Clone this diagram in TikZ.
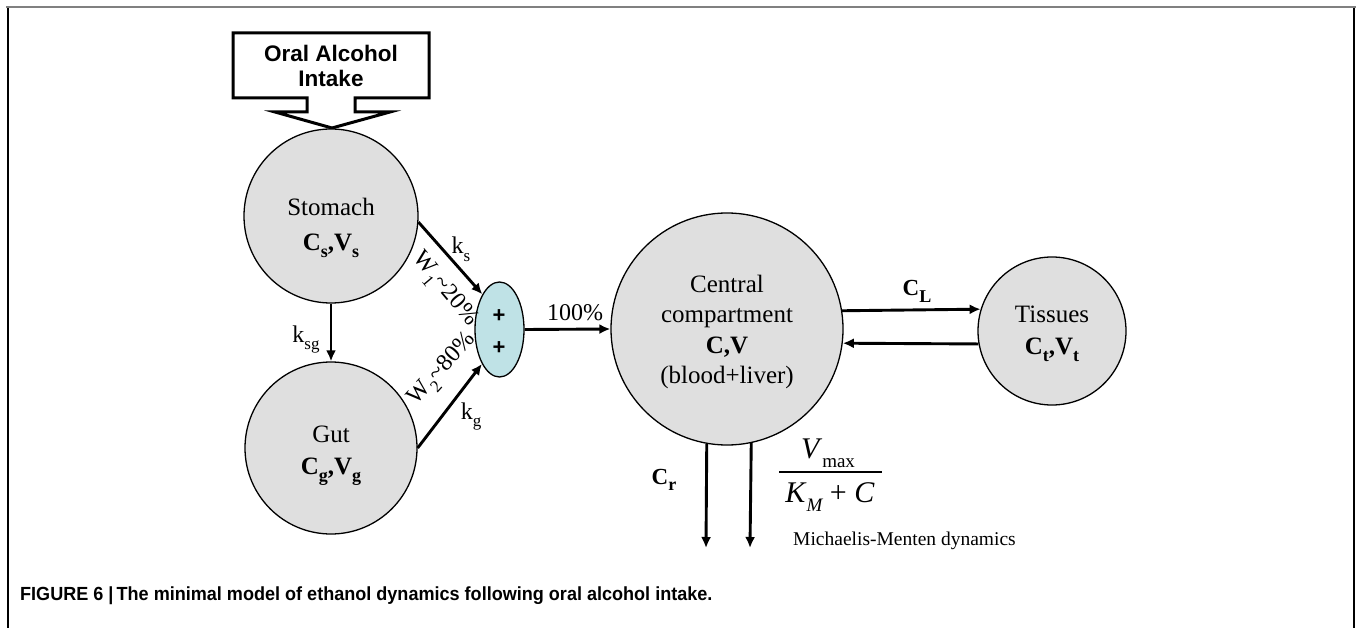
\documentclass[tikz,border=0pt]{standalone}
\usepackage{fontspec}
\setmainfont{Liberation Serif}
\newfontfamily\arialb{Liberation Sans}
\newfontfamily\capfont[FakeStretch=0.95]{Liberation Sans}
\usetikzlibrary{arrows.meta,shapes.geometric}
\definecolor{circfill}{HTML}{DFDFDF}
\definecolor{mixfill}{HTML}{BFE2E6}
\definecolor{framegray}{HTML}{808080}
\newcommand{\lsub}[1]{\raisebox{-0.32em}{\fontsize{17}{17}\selectfont #1}}
\newcommand{\bsub}[1]{\raisebox{-0.28em}{\fontsize{18}{18}\selectfont #1}}
\begin{document}
\begin{tikzpicture}[x=1pt,y=-1pt,
  comp/.style={circle,draw=black,line width=1.3pt,fill=circfill,inner sep=0pt},
  txt/.style={anchor=base,inner sep=0pt,font=\fontsize{25}{30}\selectfont},
  lbl/.style={anchor=base,inner sep=0pt,font=\fontsize{24}{28}\selectfont},
  flow/.style={line width=2.9pt,-{Latex[length=11pt,width=10pt]}},
]
\useasboundingbox (0,0) rectangle (1357,628);
\fill[white] (0,0) rectangle (1357,628);
% frame
\draw[framegray, line width=2.5pt] (6,7) -- (1356,7);
\draw[line width=1.5pt] (8,8) -- (8,628);
\draw[line width=1.5pt] (1354,8) -- (1354,628);

% oral intake block arrow
\draw[line width=3pt, fill=white, line join=miter]
  (233,33) -- (429,33) -- (429,98) -- (355,98) -- (355,112) -- (390,112)
  -- (332,128) -- (275,112) -- (307,112) -- (307,98) -- (233,98) -- cycle;
\node[anchor=base,inner sep=0pt,font=\arialb\bfseries\fontsize{22.5}{26}\selectfont] (intake1) at (331,62) {Oral Alcohol};
\node[anchor=base,inner sep=0pt,font=\arialb\bfseries\fontsize{22.5}{26}\selectfont] (intake2) at (331,87) {Intake};

% compartments
\node[comp, minimum size=174pt] (stomach) at (331,216) {};
\node[comp, minimum size=172pt] (gut) at (331,448) {};
\node[comp, minimum size=232pt] (central) at (727,329) {};
\node[comp, minimum size=148pt] (tissues) at (1052,331) {};
\node[ellipse, draw=black, line width=1.3pt, fill=mixfill, inner sep=0pt,
      minimum width=49pt, minimum height=95pt] (mix) at (499.5,329.5) {};

% texts in compartments
\node[txt] (st1) at (331,216) {Stomach};
\node[txt] (st2) at (331,251) {\textbf{C\bsub{s},V\bsub{s}}};
\node[txt] (gu1) at (331,442) {Gut};
\node[txt] (gu2) at (331,474) {\textbf{C\bsub{g},V\bsub{g}}};
\node[txt] (ce1) at (727,293) {Central};
\node[txt] (ce2) at (727,322) {compartment};
\node[txt] (ce3) at (727,353) {\textbf{C,V}};
\node[txt] (ce4) at (727,383) {(blood+liver)};
\node[txt] (ti1) at (1052,322) {Tissues};
\node[txt] (ti2) at (1052,354) {\textbf{C\bsub{t},V\bsub{t}}};
\node[anchor=base,inner sep=0pt,font=\arialb\bfseries\fontsize{22}{26}\selectfont] (p1) at (499,323) {+};
\node[anchor=base,inner sep=0pt,font=\arialb\bfseries\fontsize{22}{26}\selectfont] (p2) at (499,354) {+};

% connectors
\draw[flow] (stomach.south) -- (gut.north);
\draw[flow] (stomach.-4) -- (mix.116);
\draw[flow] (gut.east) -- (mix.-117);
\draw[flow] (mix.east) -- (central.west);
\draw[flow] (central.9.4) -- (tissues.163.5);
\draw[flow] (tissues.190) -- (central.-7.4);
\coordinate (crend) at (706,548);
\coordinate (mmend) at (750,548);
\draw[flow] (central.-100.4) -- (crend);
\draw[flow] (central.-78.6) -- (mmend);

% labels
\node[lbl] (lks) at (461,254) {k\lsub{s}};
\node[lbl] (lksg) at (306,342) {k\lsub{sg}};
\node[lbl] (lkg) at (471,419) {k\lsub{g}};
\node[lbl] (l100) at (575,320) {100\%};
\node[anchor=base,inner sep=0pt,font=\bfseries\fontsize{23}{26}\selectfont] (lcl) at (917,296) {C\bsub{L}};
\node[anchor=base,inner sep=0pt,font=\bfseries\fontsize{23}{26}\selectfont] (lcr) at (664,484) {C\bsub{r}};
\node[inner sep=0pt, rotate=-50, font=\fontsize{24}{28}\selectfont] (lw1) at (444,290) {W\lsub{1}\textasciitilde 20\%};
\node[inner sep=0pt, rotate=48, font=\fontsize{24}{28}\selectfont] (lw2) at (443,370) {W\lsub{2}\textasciitilde 80\%};

% Michaelis-Menten fraction
\node[anchor=base,inner sep=0pt,font=\fontsize{30}{34}\selectfont] (vmax) at (828,458) {\textit{V}\raisebox{-0.3em}{\fontsize{19}{19}\selectfont max}};
\coordinate (barl) at (779,472);
\coordinate (barr) at (882,472);
\draw[line width=1.2pt] (barl) -- (barr);
\node[anchor=base,inner sep=0pt,font=\fontsize{30}{34}\selectfont] (km) at (830,502) {\textit{K}\raisebox{-0.3em}{\fontsize{19}{19}\selectfont\itshape M} + \textit{C}};
\node[anchor=base west,inner sep=0pt,font=\fontsize{19.5}{23}\selectfont] (mm) at (793,545) {Michaelis-Menten dynamics};

% caption
\node[anchor=base west,inner sep=0pt,font=\capfont\bfseries\fontsize{19}{22}\selectfont] (caption) at (20,600) {FIGURE 6 |\,The minimal model of ethanol dynamics following oral alcohol intake.};
\end{tikzpicture}
\end{document}
